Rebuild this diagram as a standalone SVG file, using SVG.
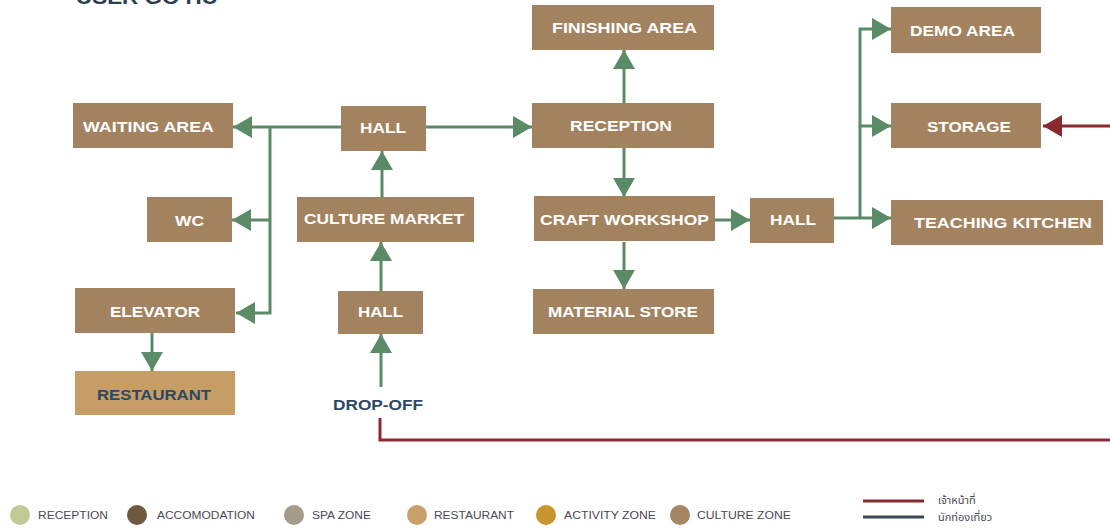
<svg xmlns="http://www.w3.org/2000/svg" width="1110" height="528" viewBox="0 0 1110 528">
<style>
.box{fill:#A3835F}
.rest{fill:#C59D65}
.lbl{font-family:"Liberation Sans",Arial,sans-serif;font-weight:bold;font-size:15px;fill:#FFFFFF;text-anchor:middle;dominant-baseline:central}
.nv{fill:#2B4866}
.g{fill:none;stroke:#5B8A67;stroke-width:3;marker-end:url(#ag)}
.gl{fill:none;stroke:#5B8A67;stroke-width:3}
.r{fill:none;stroke:#8A2A2E;stroke-width:3}
.leg{font-family:"Liberation Sans",Arial,sans-serif;font-size:10px;fill:#4A4A55;dominant-baseline:central}
.th{font-family:"Noto Sans Thai","Noto Sans","DejaVu Sans",sans-serif;font-size:11px;fill:#4A4A55}
</style>
<defs>
<marker id="ag" markerUnits="userSpaceOnUse" markerWidth="20" markerHeight="22" viewBox="0 0 20 22" refX="19" refY="11" orient="auto">
<path d="M0,0 L19,11 L0,22 z" fill="#5B8A67"/>
</marker>
<marker id="ar" markerUnits="userSpaceOnUse" markerWidth="20" markerHeight="22" viewBox="0 0 20 22" refX="19" refY="11" orient="auto">
<path d="M0,0 L19,11 L0,22 z" fill="#8A2A2E"/>
</marker>
</defs>
<rect width="1110" height="528" fill="#FFFFFF"/>
<text x="76" y="4" font-family="Liberation Sans,Arial,sans-serif" font-weight="bold" font-size="20" fill="#2D3E50" textLength="142" lengthAdjust="spacingAndGlyphs">USER GO HU</text>

<g id="connectors">
<path class="g" d="M341,127 H233"/>
<path class="g" d="M270,127 V313 H236"/>
<path class="g" d="M270,220 H232"/>
<path class="g" d="M426,127 H532"/>
<path class="g" d="M382,197 V151"/>
<path class="g" d="M381,291 V242"/>
<path class="g" d="M381,387 V334"/>
<path class="g" d="M152,333 V371"/>
<path class="g" d="M624,103 V50"/>
<path class="g" d="M624,148 V197"/>
<path class="g" d="M624,242 V289"/>
<path class="g" d="M715,220 H750"/>
<path class="g" d="M834,218 H891"/>
<path class="g" d="M860,218 V29 H891"/>
<path class="g" d="M860,126 H891"/>
<path class="r" d="M380,418 V440 H1110"/>
<path class="r" d="M1110,126 H1043" marker-end="url(#ar)"/>
</g>

<g id="waiting-area"><rect class="box" x="73" y="103" width="160" height="45"/><text class="lbl" x="148.5" y="126" textLength="131" lengthAdjust="spacingAndGlyphs">WAITING AREA</text></g>
<g id="wc"><rect class="box" x="147" y="197" width="85" height="45"/><text class="lbl" x="189.5" y="220" textLength="29" lengthAdjust="spacingAndGlyphs">WC</text></g>
<g id="elevator"><rect class="box" x="75" y="288" width="160" height="45"/><text class="lbl" x="155" y="311" textLength="90" lengthAdjust="spacingAndGlyphs">ELEVATOR</text></g>
<g id="restaurant"><rect class="rest" x="75" y="371" width="160" height="44"/><text class="lbl nv" x="154" y="394" textLength="114" lengthAdjust="spacingAndGlyphs">RESTAURANT</text></g>
<g id="hall-top"><rect class="box" x="341" y="106" width="85" height="45"/><text class="lbl" x="383" y="127" textLength="46" lengthAdjust="spacingAndGlyphs">HALL</text></g>
<g id="culture-market"><rect class="box" x="297" y="197" width="177" height="45"/><text class="lbl" x="384" y="218" textLength="160" lengthAdjust="spacingAndGlyphs">CULTURE MARKET</text></g>
<g id="hall-lower"><rect class="box" x="338" y="291" width="85" height="43"/><text class="lbl" x="380.5" y="311" textLength="45" lengthAdjust="spacingAndGlyphs">HALL</text></g>
<g id="drop-off"><text class="lbl nv" x="378" y="404" textLength="90" lengthAdjust="spacingAndGlyphs">DROP-OFF</text></g>
<g id="finishing-area"><rect class="box" x="532" y="5" width="182" height="45"/><text class="lbl" x="624.5" y="27" textLength="145" lengthAdjust="spacingAndGlyphs">FINISHING AREA</text></g>
<g id="reception"><rect class="box" x="532" y="103" width="182" height="45"/><text class="lbl" x="621" y="125" textLength="102" lengthAdjust="spacingAndGlyphs">RECEPTION</text></g>
<g id="craft-workshop"><rect class="box" x="534" y="196" width="181" height="45"/><text class="lbl" x="624.5" y="219" textLength="169" lengthAdjust="spacingAndGlyphs">CRAFT WORKSHOP</text></g>
<g id="material-store"><rect class="box" x="533" y="289" width="181" height="45"/><text class="lbl" x="623" y="311" textLength="150" lengthAdjust="spacingAndGlyphs">MATERIAL STORE</text></g>
<g id="hall-right"><rect class="box" x="750" y="198" width="84" height="45"/><text class="lbl" x="793" y="219" textLength="46" lengthAdjust="spacingAndGlyphs">HALL</text></g>
<g id="demo-area"><rect class="box" x="891" y="7" width="150" height="46"/><text class="lbl" x="962.5" y="30" textLength="105" lengthAdjust="spacingAndGlyphs">DEMO AREA</text></g>
<g id="storage"><rect class="box" x="891" y="103" width="150" height="45"/><text class="lbl" x="969" y="126" textLength="84" lengthAdjust="spacingAndGlyphs">STORAGE</text></g>
<g id="teaching-kitchen"><rect class="box" x="891" y="200" width="212" height="45"/><text class="lbl" x="1003" y="222" textLength="178" lengthAdjust="spacingAndGlyphs">TEACHING KITCHEN</text></g>

<g id="legend">
<circle cx="20" cy="515" r="10" fill="#C3C996"/><text class="leg" x="38" y="515" textLength="70" lengthAdjust="spacingAndGlyphs">RECEPTION</text>
<circle cx="137" cy="515" r="10" fill="#6E5840"/><text class="leg" x="157" y="515" textLength="98" lengthAdjust="spacingAndGlyphs">ACCOMODATION</text>
<circle cx="294" cy="515" r="10" fill="#A69A8A"/><text class="leg" x="312" y="515" textLength="59" lengthAdjust="spacingAndGlyphs">SPA ZONE</text>
<circle cx="417" cy="515" r="10" fill="#C7A06B"/><text class="leg" x="434" y="515" textLength="80" lengthAdjust="spacingAndGlyphs">RESTAURANT</text>
<circle cx="546" cy="515" r="10" fill="#C9952F"/><text class="leg" x="564" y="515" textLength="92" lengthAdjust="spacingAndGlyphs">ACTIVITY ZONE</text>
<circle cx="680" cy="515" r="10" fill="#A68565"/><text class="leg" x="697" y="515" textLength="94" lengthAdjust="spacingAndGlyphs">CULTURE ZONE</text>
<line x1="863" y1="501" x2="924" y2="501" stroke="#8A2A2E" stroke-width="3"/>
<line x1="863" y1="517" x2="924" y2="517" stroke="#3D4A55" stroke-width="3"/>
<text class="th" x="938" y="504">เจ้าหน้าที่</text>
<text class="th" x="938" y="521">นักท่องเที่ยว</text>
</g>
</svg>
